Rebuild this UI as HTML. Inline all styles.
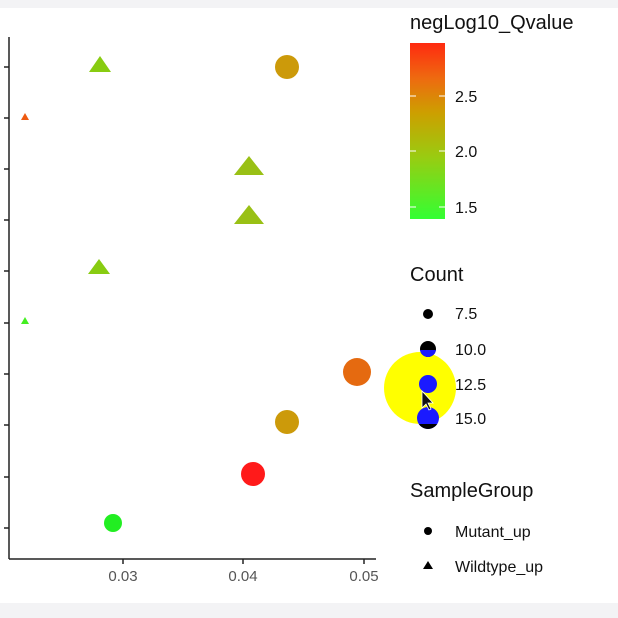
<!DOCTYPE html>
<html><head><meta charset="utf-8"><style>
html,body{margin:0;padding:0;background:#fff;}
svg{display:block;font-family:"Liberation Sans",sans-serif;}
</style></head><body>
<svg width="618" height="618" viewBox="0 0 618 618">
<defs><linearGradient id="g" x1="0" y1="1" x2="0" y2="0">
<stop offset="0" stop-color="#33ff33"/><stop offset="0.35" stop-color="#99cc11"/><stop offset="0.6" stop-color="#cca000"/><stop offset="0.8" stop-color="#ee6a10"/><stop offset="1" stop-color="#ff2a10"/></linearGradient>
<clipPath id="c15"><circle cx="428" cy="418" r="11"/></clipPath>
<clipPath id="c10"><circle cx="428" cy="349" r="8"/></clipPath></defs>
<rect x="0" y="0" width="618" height="8" fill="#f3f3f5"/>
<rect x="0" y="603" width="618" height="15" fill="#f3f3f5"/>
<g stroke="#222" stroke-width="1.5">
<line x1="9" y1="37" x2="9" y2="559"/><line x1="9" y1="559" x2="376" y2="559"/>
<line x1="4" y1="67" x2="9" y2="67"/><line x1="4" y1="118" x2="9" y2="118"/><line x1="4" y1="169" x2="9" y2="169"/><line x1="4" y1="220" x2="9" y2="220"/><line x1="4" y1="271" x2="9" y2="271"/><line x1="4" y1="323" x2="9" y2="323"/><line x1="4" y1="374" x2="9" y2="374"/><line x1="4" y1="425" x2="9" y2="425"/><line x1="4" y1="477" x2="9" y2="477"/><line x1="4" y1="528" x2="9" y2="528"/>
<line x1="123" y1="559" x2="123" y2="564"/><line x1="243" y1="559" x2="243" y2="564"/><line x1="364" y1="559" x2="364" y2="564"/>
</g>
<g font-size="15" fill="#555" text-anchor="middle"><text x="123" y="581">0.03</text><text x="243" y="581">0.04</text><text x="364" y="581">0.05</text></g>
<polygon points="100,56 111,72 89,72" fill="#88cc11"/>
<circle cx="287" cy="67" r="12" fill="#cc9a0a"/>
<polygon points="25,113 29,120 21,120" fill="#ee5a10"/>
<polygon points="249,156 264,175 234,175" fill="#99c015"/>
<polygon points="249,205 264,224 234,224" fill="#99c015"/>
<polygon points="99,259 110,274 88,274" fill="#88cc11"/>
<polygon points="25,317 29,324 21,324" fill="#44ee22"/>
<circle cx="357" cy="372" r="14" fill="#e56a10"/>
<circle cx="287" cy="422" r="12" fill="#cc9a0a"/>
<circle cx="253" cy="474" r="12" fill="#ff1a1a"/>
<circle cx="113" cy="523" r="9" fill="#22ee22"/>
<text x="410" y="29" font-size="20" fill="#111">negLog10_Qvalue</text>
<rect x="410" y="43" width="35" height="176" fill="url(#g)"/>
<g stroke="#fff" stroke-width="1"><line x1="410" y1="96" x2="416" y2="96"/><line x1="439" y1="96" x2="445" y2="96"/><line x1="410" y1="151" x2="416" y2="151"/><line x1="439" y1="151" x2="445" y2="151"/><line x1="410" y1="207" x2="416" y2="207"/><line x1="439" y1="207" x2="445" y2="207"/></g>
<g font-size="16" fill="#111"><text x="455" y="102">2.5</text><text x="455" y="157">2.0</text><text x="455" y="213">1.5</text></g>
<text x="410" y="281" font-size="20" fill="#111">Count</text>
<circle cx="420" cy="388" r="36" fill="#ffff00"/>
<circle cx="428" cy="314" r="5" fill="#000"/>
<g clip-path="url(#c10)"><rect x="418" y="339" width="20" height="20" fill="#000"/><rect x="418" y="350" width="20" height="10" fill="#1a1aff"/></g>
<circle cx="428" cy="384" r="9" fill="#1a1aff"/>
<g clip-path="url(#c15)"><rect x="415" y="405" width="26" height="26" fill="#1a1aff"/><rect x="415" y="424" width="26" height="8" fill="#000"/></g>
<path d="M422,391 L422,408 L426,404 L429,410 L431,409 L428,403 L433,403 Z" fill="#111" stroke="#fff" stroke-width="0.8"/>
<g font-size="16" fill="#111"><text x="455" y="319">7.5</text><text x="455" y="355">10.0</text><text x="455" y="390">12.5</text><text x="455" y="424">15.0</text></g>
<text x="410" y="497" font-size="20" fill="#111">SampleGroup</text>
<circle cx="428" cy="531" r="4" fill="#000"/>
<polygon points="428,561 433,569 423,569" fill="#000"/>
<g font-size="16" fill="#111"><text x="455" y="537">Mutant_up</text><text x="455" y="572">Wildtype_up</text></g>
</svg>
</body></html>
